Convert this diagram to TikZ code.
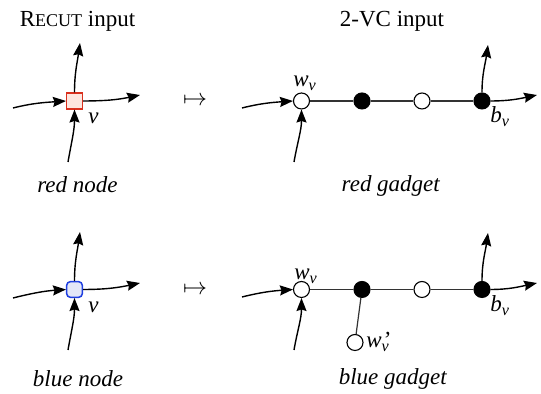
\documentclass[tikz,border=0pt]{standalone}
\usepackage{fontspec}
\setmainfont{Liberation Serif}
\usepackage{tikz}
\usetikzlibrary{positioning,arrows.meta}
\definecolor{cutred}{HTML}{D9301E}
\definecolor{cutredfill}{HTML}{FDE6DF}
\definecolor{cutblue}{HTML}{1F3FE0}
\definecolor{cutbluefill}{HTML}{E3E7F7}
\newcommand{\lbsub}[2]{\textit{#1}\textsubscript{\textit{#2}}}
\newcommand{\lbsubp}[2]{\textit{#1}\makebox[0pt][l]{\kern0.3pt\textit{’}}\textsubscript{\textit{#2}}}
\newcommand{\recut}{R{\fontsize{9}{10}\selectfont ECUT}}

\begin{document}
\begin{tikzpicture}[
  x=0.5pt, y=0.5pt,
  font=\fontsize{11.5}{13}\selectfont,
  rnode/.style={draw=cutred, fill=cutredfill, line width=0.75pt,
                minimum size=7.8pt, inner sep=0pt},
  bnode/.style={rnode, draw=cutblue, fill=cutbluefill, rounded corners=1.8pt},
  wht/.style={circle, draw, fill=white, line width=0.55pt, minimum size=8pt, inner sep=0pt},
  blk/.style={wht, fill=black},
  arr/.style={-{Stealth[length=6.5pt,width=5pt,inset=0.8pt]}, line width=0.7pt},
  gline/.style={line width=0.6pt, draw=black!80},
  lbl/.style={anchor=base west, inner sep=0pt},
  captxt/.style={anchor=base, inner sep=0pt},
]
\useasboundingbox (0,0) rectangle (541,394);
% headings
\node[captxt] (hin)  at (77.5,367) {\recut{} input};
\node[captxt] (hout) at (392,367)  {2-VC input};

% red node, RECUT side
\node[rnode] (rv) at (74.5,293) {};
\coordinate (rl) at (13,286);
\coordinate (rb) at (68,232);
\coordinate (ru) at (80,351);
\coordinate (rr) at (140,299);
\draw[arr] (rl) to[out=14,in=184] (rv.west);
\draw[arr] (rb) to[out=80,in=270] (rv.south);
\draw[arr] (rv.north) to[out=90,in=262] (ru);
\draw[arr] (rv.east) to[out=0,in=192] (rr);
\node[lbl] (rvl) at (88,270) {\textit{v}};
\node[captxt] (rmap) at (195,288) {$\mapsto$};

% red gadget, 2-VC side
\node[wht] (rw)  at (301.5,293) {};
\node[blk] (rk1) at (362,293)   {};
\node[wht] (ro2) at (422,293)   {};
\node[blk] (rbv) at (482,293)   {};
\draw[gline] (rw) -- (rk1) -- (ro2) -- (rbv);
\coordinate (rgl) at (242,286);
\coordinate (rgb) at (294,232);
\coordinate (rgu) at (488,349);
\coordinate (rgr) at (537,299);
\draw[arr] (rgl) to[out=14,in=184] (rw.west);
\draw[arr] (rgb) to[out=80,in=270] (rw.south);
\draw[arr] (rbv.north) to[out=90,in=262] (rgu);
\draw[arr] (rbv.east) to[out=0,in=192] (rgr);
\node[lbl] (rwl) at (293,307) {\lbsub{w}{v}};
\node[lbl] (rbl) at (490,271) {\lbsub{b}{v}};

% captions
\node[captxt] (rcap)  at (77.5,201) {\textit{red node}};
\node[captxt] (rgcap) at (391,202)  {\textit{red gadget}};

% blue node, RECUT side
\node[bnode] (bv) at (74.5,104.5) {};
\coordinate (bl) at (13,96);
\coordinate (bb) at (68,44);
\coordinate (bu) at (80,162);
\coordinate (br) at (140,111);
\draw[arr] (bl) to[out=14,in=184] (bv.west);
\draw[arr] (bb) to[out=80,in=270] (bv.south);
\draw[arr] (bv.north) to[out=90,in=262] (bu);
\draw[arr] (bv.east) to[out=0,in=192] (br);
\node[lbl] (bvl) at (88,81) {\textit{v}};
\node[captxt] (bmap) at (195,99.5) {$\mapsto$};

% blue gadget, 2-VC side
\node[wht] (bw)  at (301.5,104.5) {};
\node[blk] (bk1) at (362,104.5)   {};
\node[wht] (bo2) at (422,104.5)   {};
\node[blk] (bbv) at (482,104.5)   {};
\node[wht] (bwp) at (355,51.5)    {};
\draw[gline] (bw) -- (bk1) -- (bo2) -- (bbv);
\draw[gline] (bk1) -- (bwp);
\coordinate (bgl) at (242,97);
\coordinate (bgb) at (294,44);
\coordinate (bgu) at (488,161);
\coordinate (bgr) at (537,111);
\draw[arr] (bgl) to[out=14,in=184] (bw.west);
\draw[arr] (bgb) to[out=80,in=270] (bw.south);
\draw[arr] (bbv.north) to[out=90,in=262] (bgu);
\draw[arr] (bbv.east) to[out=0,in=192] (bgr);
\node[lbl] (bwl)  at (294,114) {\lbsub{w}{v}};
\node[lbl] (bbl)  at (490,82)  {\lbsub{b}{v}};
\node[lbl] (bwpl) at (366,46)  {\lbsubp{w}{v}};

% captions
\node[captxt] (bcap)  at (78,7)  {\textit{blue node}};
\node[captxt] (bgcap) at (393,9) {\textit{blue gadget}};
\end{tikzpicture}
\end{document}
